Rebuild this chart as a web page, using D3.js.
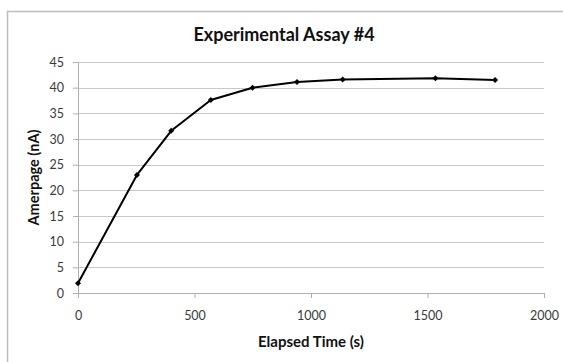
<!DOCTYPE html>
<html>
<head>
<meta charset="utf-8">
<script src="https://cdn.jsdelivr.net/npm/d3@7"></script>
<style>
  html, body { margin: 0; padding: 0; background: #fff; }
  svg { display: block; font-family: Lato, "Open Sans", sans-serif; }
</style>
</head>
<body>
<svg id="chart" width="563" height="362"></svg>
<script>
// Elapsed time (s) and measured current (nA)
const elapsed = [0, 253, 400, 570, 749, 940, 1136, 1534, 1790];
const amperage = [1.9, 23.0, 31.6, 37.6, 40.0, 41.1, 41.6, 41.85, 41.5];
const xTicks = [0, 500, 1000, 1500, 2000];
const yTicks = [0, 5, 10, 15, 20, 25, 30, 35, 40, 45];

const svg = d3.select("#chart");
const margin = { left: 78, right: 19, top: 62, bottom: 69 };
const W = 563, H = 362;

// chart border
svg.append("rect")
  .attr("x", 7.5).attr("y", 11.5)
  .attr("width", 570).attr("height", 360)
  .attr("fill", "#fff").attr("stroke", "#bdbdbd").attr("stroke-width", 1.5);

const x = d3.scaleLinear().domain([0, 2000]).range([margin.left, W - margin.right]);
const y = d3.scaleLinear().domain([0, 45]).range([H - margin.bottom, margin.top]);

// horizontal gridlines
svg.append("g").selectAll("line").data(yTicks.slice(1)).join("line")
  .attr("x1", x(0)).attr("x2", x(2000))
  .attr("y1", d => Math.round(y(d)) + 0.5).attr("y2", d => Math.round(y(d)) + 0.5)
  .attr("stroke", "#c8c8c8").attr("stroke-width", 1);

// y axis
const yAxis = svg.append("g")
  .attr("transform", `translate(${x(0)},0)`)
  .call(d3.axisLeft(y).tickValues(yTicks).tickSize(5).tickPadding(9).tickFormat(d3.format("d")));
// x axis
const xAxis = svg.append("g")
  .attr("transform", `translate(0,${y(0)})`)
  .call(d3.axisBottom(x).tickValues(xTicks).tickSize(5).tickPadding(13).tickFormat(d3.format("d")));

[yAxis, xAxis].forEach(g => {
  g.select(".domain").attr("stroke", "#b0b0b0");
  g.selectAll(".tick line").attr("stroke", "#b0b0b0");
  g.selectAll(".tick text").attr("fill", "#3a3a3a").style("font-size", "12.5px")
    .style("font-family", "Lato, 'Open Sans', sans-serif");
});

// data line
svg.append("path")
  .datum(elapsed.map((t, i) => [t, amperage[i]]))
  .attr("fill", "none").attr("stroke", "#000").attr("stroke-width", 2)
  .attr("stroke-linejoin", "round")
  .attr("d", d3.line().x(d => x(d[0])).y(d => y(d[1])));

// diamond markers
svg.append("g").selectAll("path").data(elapsed.map((t, i) => [t, amperage[i]])).join("path")
  .attr("transform", d => `translate(${x(d[0])},${y(d[1])}) rotate(45)`)
  .attr("d", d3.symbol().type(d3.symbolSquare).size(18))
  .attr("fill", "#000");

// titles
svg.append("text")
  .attr("x", 284).attr("y", 41)
  .attr("text-anchor", "middle")
  .style("font-size", "18px").style("font-weight", "bold")
  .attr("fill", "#111")
  .text("Experimental Assay #4");

svg.append("text")
  .attr("x", (x(0) + x(2000)) / 2).attr("y", 347)
  .attr("text-anchor", "middle")
  .style("font-size", "15px").style("font-weight", "bold")
  .attr("fill", "#111")
  .text("Elapsed Time (s)");

svg.append("text")
  .attr("transform", `translate(39,${(y(0) + y(45)) / 2}) rotate(-90)`)
  .attr("text-anchor", "middle")
  .style("font-size", "14.5px").style("font-weight", "bold")
  .attr("fill", "#111")
  .text("Amerpage (nA)");
</script>
</body>
</html>
